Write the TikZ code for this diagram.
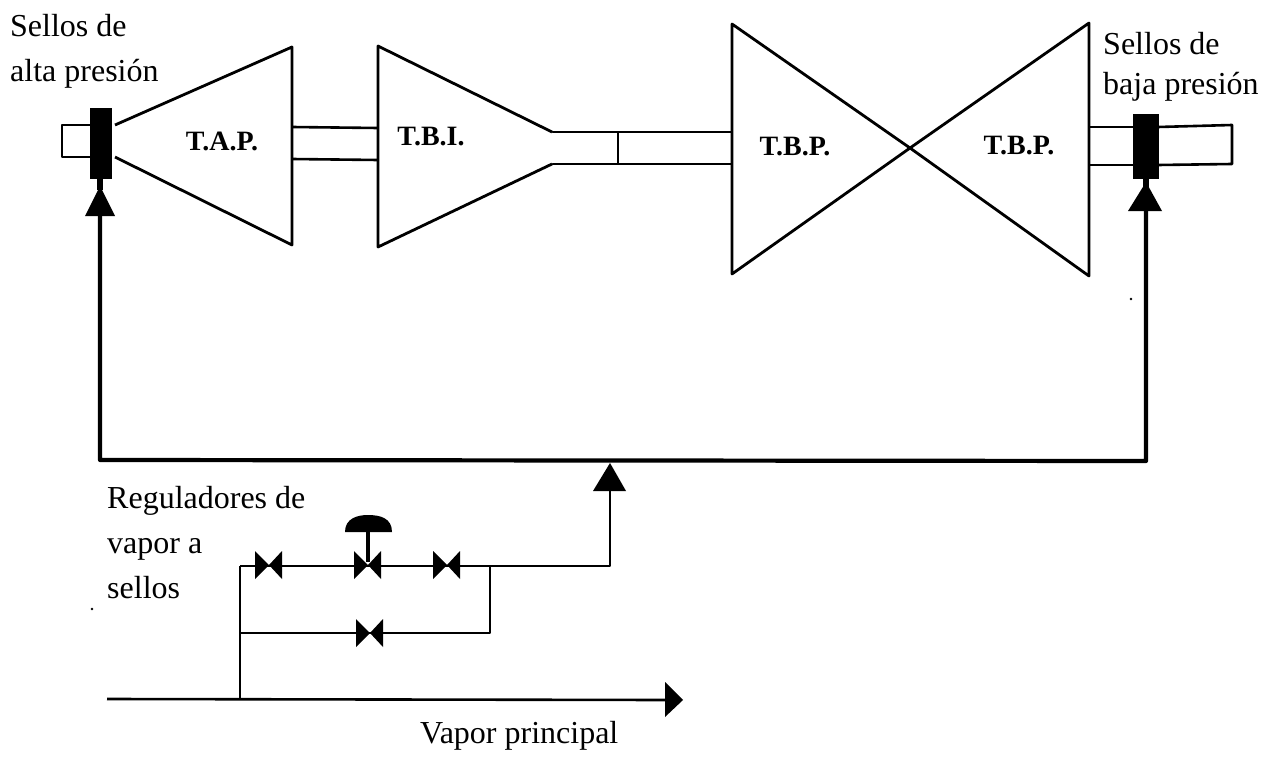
\documentclass[tikz,border=0pt]{standalone}
\usepackage{fontspec}
\setmainfont{Liberation Serif}
\tikzset{
 pipe/.style={draw=black,line width=2.6pt,line join=round},
 thick pipe/.style={draw=black,line width=4.2pt},
 turbine/.style={draw=black,line width=2.8pt,line join=round,fill=white},
 seal/.style={fill=black,draw=none},
 tip/.style={fill=black,draw=none},
 lbl/.style={anchor=base west,inner sep=0pt,font=\fontsize{32}{34}\selectfont},
 tlbl/.style={anchor=center,inner sep=0pt,font=\fontsize{28}{30}\bfseries\selectfont}
}
\newcommand{\valve}[2]{%
 \fill[black] (#1-14,#2-14) -- (#1,#2) -- (#1-14,#2+14) -- cycle;
 \fill[black] (#1+13,#2-14) -- (#1,#2) -- (#1+13,#2+14) -- cycle;}
\begin{document}
\begin{tikzpicture}[x=1pt,y=-1pt]
\useasboundingbox (0,0) rectangle (1266,757);
\fill[white] (0,0) rectangle (1266,757);
% named points
\coordinate (tl) at (100,215);
\coordinate (cl) at (100,460);
\coordinate (cr) at (1146,461);
\coordinate (tr) at (1146,211);
\coordinate (tm) at (610,491);
\coordinate (jm) at (610,566);
\coordinate (jr) at (490,566);
\coordinate (jl) at (240,566);
\coordinate (bl) at (240,633);
\coordinate (br) at (490,633);
\coordinate (ml) at (107,699);
\coordinate (mj) at (240,699);
\coordinate (mr) at (668,700);
% shafts
\draw[pipe] (292,127) -- (378,128) (292,159) -- (378,160);
\draw[pipe] (552,132) -- (732,132) (552,164) -- (732,164) (618,132) -- (618,164);
\draw[pipe] (90,125) -- (62,125) -- (62,157) -- (90,157);
\draw[pipe] (1089,127) -- (1134,127) (1089,165) -- (1134,165);
\draw[pipe] (1158,127) -- (1232,125) -- (1232,164) -- (1158,165);
% turbines
\draw[turbine] (115,125) -- (292,47) -- (292,245) -- (115,157);
\draw[turbine] (552,132) -- (378,46) -- (378,247) -- (552,164);
\draw[turbine] (910,148) -- (732,24) -- (732,274) -- cycle;
\draw[turbine] (910,148) -- (1089,23) -- (1089,276) -- cycle;
% seals
\fill[seal] (90,108) rectangle (112,179);
\fill[seal] (1133,114) rectangle (1159,179);
% steam headers
\draw[thick pipe,line join=round] (tl) -- (cl) -- (cr) -- (tr);
\fill[seal] (97,179) rectangle (103,190);
\fill[seal] (1143,179) rectangle (1149,188);
\fill[tip] (85,216) -- (100,186) -- (115,216) -- cycle;
\fill[tip] (1128,211) -- (1146,182) -- (1162,211) -- cycle;
% regulators
\draw[pipe] (jl) -- (jm) -- (tm);
\draw[pipe] (jr) -- (br) -- (bl);
\draw[pipe] (jl) -- (mj);
\draw[pipe] (ml) -- (mr);
\fill[tip] (593,491) -- (610,463) -- (626,491) -- cycle;
\fill[tip] (665,682) -- (683,700) -- (665,717) -- cycle;
\valve{269}{565}
\valve{368}{565}
\valve{447}{565}
\valve{370}{633}
\draw[line width=3.4pt] (368,532) -- (368,562);
\fill[black] (345,532) .. controls (345,518) and (358,515) .. (368,515) .. controls (380,515) and (392,518) .. (392,532) -- cycle;
% specks
\fill[black] (92,609) circle (1.4);
\fill[black] (1131,299) circle (1.4);
% labels
\node[lbl] (a) at (10,37) {Sellos de};
\node[lbl] (b) at (10,82) {alta presión};
\node[lbl] (c) at (1103,55) {Sellos de};
\node[lbl] (d) at (1103,95) {baja presión};
\node[lbl] (e) at (107,508) {Reguladores de};
\node[lbl] (f) at (107,553) {vapor a};
\node[lbl] (g) at (107,598) {sellos};
\node[lbl] (h) at (420,743) {Vapor principal};
\node[tlbl] (t1) at (222,141) {T.A.P.};
\node[tlbl] (t2) at (431,137) {T.B.I.};
\node[tlbl] (t3) at (795,147) {T.B.P.};
\node[tlbl] (t4) at (1019,146) {T.B.P.};
\end{tikzpicture}
\end{document}
